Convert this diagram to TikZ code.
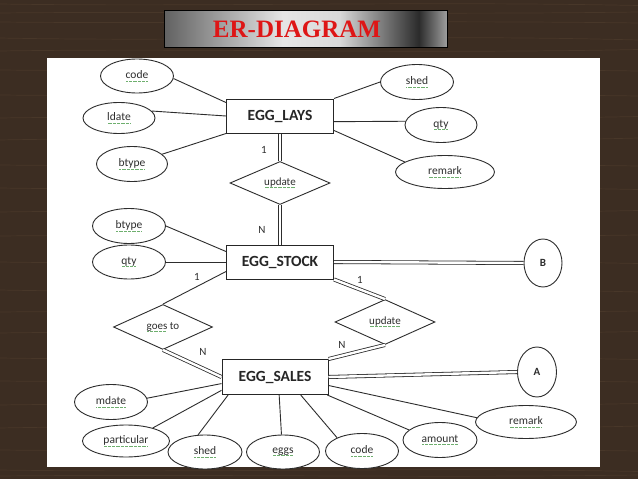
\documentclass[tikz,border=0pt]{standalone}
\usepackage{fontspec}
\setmainfont{Carlito}
\newfontfamily\titlefont{Liberation Serif}
\usetikzlibrary{shapes.geometric}
\definecolor{wood}{RGB}{60,45,34}
\definecolor{woodlight}{RGB}{88,68,50}
\definecolor{titlered}{RGB}{222,22,22}
\definecolor{sqgreen}{RGB}{110,175,110}
\definecolor{ink}{RGB}{45,45,45}
\pgfdeclarehorizontalshading{titlebar}{100bp}{rgb(0bp)=(0.38,0.38,0.38); rgb(25bp)=(0.38,0.38,0.38); rgb(46bp)=(0.90,0.90,0.90); rgb(56bp)=(0.85,0.85,0.85); rgb(70bp)=(0.17,0.17,0.17); rgb(75bp)=(0.62,0.62,0.62); rgb(100bp)=(0.62,0.62,0.62)}
\newsavebox\sqbox
\newcommand\sqg[1]{\sbox\sqbox{#1}\rlap{\usebox\sqbox}\textcolor{sqgreen}{\leaders\hbox to 1.3pt{\hss\rule[-2.4pt]{0.6pt}{0.6pt}\hss}\hskip\wd\sqbox}}
\tikzset{
  attr/.style={ellipse, draw=ink, line width=0.9pt, fill=white, inner sep=0pt, text=ink, font=\fontsize{11.5}{13}\selectfont},
  ent/.style={rectangle, draw=black!85, line width=1pt, fill=white, minimum width=107pt, minimum height=34pt, inner sep=0pt, font=\bfseries\fontsize{15.5}{17}\selectfont, text=black!85},
  rel/.style={diamond, draw=ink, line width=0.9pt, fill=white, aspect=2.3, inner sep=0pt, minimum width=100pt, minimum height=44pt, text=ink, font=\fontsize{11}{13}\selectfont},
  conn/.style={draw=ink, line width=0.9pt},
  dbl/.style={draw=ink, line width=0.8pt, double=white, double distance=2.4pt},
  card/.style={font=\fontsize{11}{13}\selectfont, text=ink, inner sep=0pt},
}
\begin{document}
\begin{tikzpicture}[x=1pt,y=-1pt]
\useasboundingbox (0,0) rectangle (638,479);
% wood background
\fill[wood] (0,0) rectangle (638,479);
\foreach \yy/\bb in {4/3,13/-2,22/2,38/4,51/-3,70/2,95/2,118/-3,140/-4,165/2,188/3,212/-3,236/-2,262/3,290/4,312/-2,333/-3,358/3,381/2,405/-3,428/-4,450/2,470/3,476/-2}{
  \draw[woodlight, opacity=0.45, line width=0.7pt] (0,\yy) .. controls (200,\yy+\bb) and (420,\yy-\bb) .. (638,\yy+0.5*\bb);
}
% title bar
\shade[shading=titlebar, draw=black, line width=0.8pt] (164,10) rectangle (447,47);
\node[font=\titlefont\bfseries\fontsize{25}{27}\selectfont, text=titlered, inner sep=0pt] (title) at (297,29.5) {ER-DIAGRAM};
% white panel
\fill[white] (47,58) rectangle (600,467);

% entities
\node[ent] (lays) at (280,116) {EGG\_LAYS};
\node[ent] (stock) at (280,262) {EGG\_STOCK};
\node[ent, minimum width=106pt, minimum height=35pt] (sales) at (275,377) {EGG\_SALES};

% relationships
\node[rel, minimum height=43pt] (upd1) at (280,183) {\sqg{update}};
\node[rel, minimum width=99pt, minimum height=45pt] (goes) at (163,327) {\sqg{goes} to};
\node[rel, minimum height=45pt] (upd2) at (385,322) {\sqg{update}};

% attributes
\node[attr, minimum width=73pt, minimum height=34pt] (code1) at (137,76) {\sqg{code}};
\node[attr, minimum width=72pt, minimum height=31pt] (ldate) at (119,118) {\sqg{ldate}};
\node[attr, minimum width=71pt, minimum height=35pt] (btype1) at (132,164) {\sqg{btype}};
\node[attr, minimum width=73pt, minimum height=35pt] (shed1) at (417,82) {\sqg{shed}};
\node[attr, minimum width=72pt, minimum height=35pt] (qty1) at (441,125) {\sqg{qty}};
\node[attr, minimum width=99pt, minimum height=33pt] (remark1) at (445,172) {\sqg{remark}};
\node[attr, minimum width=73pt, minimum height=35pt] (btype2) at (129,226) {\sqg{btype}};
\node[attr, minimum width=73pt, minimum height=34pt] (qty2) at (129,262) {\sqg{qty}};
\node[attr, minimum width=73pt, minimum height=35pt] (mdate) at (111,402) {\sqg{mdate}};
\node[attr, minimum width=87pt, minimum height=32pt] (part) at (126,441) {\sqg{particular}};
\node[attr, minimum width=74pt, minimum height=34pt] (shed2) at (205,452) {\sqg{shed}};
\node[attr, minimum width=73pt, minimum height=34pt] (eggs) at (283,452) {\sqg{eggs}};
\node[attr, minimum width=73pt, minimum height=35pt] (code2) at (362,451) {\sqg{code}};
\node[attr, minimum width=74pt, minimum height=35pt] (amount) at (440,440) {\sqg{amount}};
\node[attr, minimum width=101pt, minimum height=33pt] (remark2) at (526,422) {\sqg{remark}};
\node[attr, minimum width=38pt, minimum height=48pt, font=\bfseries\fontsize{11}{13}\selectfont] (B) at (543,263) {B};
\node[attr, minimum width=39pt, minimum height=50pt, font=\bfseries\fontsize{11}{13}\selectfont] (A) at (537,372) {A};

% EGG_LAYS attributes
\draw[conn] (lays.166) -- (code1.-4);
\draw[conn] (lays.west) -- (ldate.12);
\draw[conn] (lays.south west) -- (btype1.18);
\draw[conn] (lays.north east) -- (shed1.west);
\draw[conn] (lays.-6) -- (qty1.174);
\draw[conn] (lays.-15) -- (remark1.166);
% EGG_STOCK attributes
\draw[conn] (stock.169) -- (btype2.east);
\draw[conn] (stock.west) -- (qty2.east);
\draw[conn] (stock.190) -- (goes.north);
\draw[dbl] (stock.east) -- (B.west);
\draw[dbl] (stock.south east) -- (upd2.north);
% EGG_LAYS - update - EGG_STOCK
\draw[dbl] (lays.south) -- (upd1.north);
\draw[dbl] (upd1.south) -- (stock.north);
% to EGG_SALES
\draw[dbl] (goes.south) -- (sales.west);
\draw[dbl] (upd2.south) -- (sales.north east);
\draw[dbl] (sales.east) -- (A.west);
\draw[conn] (sales.187) -- (mdate.6);
\draw[conn] (sales.194) -- (part.26);
\draw[conn] (sales.201) -- (shed2.112);
\draw[conn] (sales.283) -- (eggs.95);
\draw[conn] (sales.-35) -- (code2.152);
\draw[conn] (sales.-19) -- (amount.162);
\draw[conn] (sales.-9) -- (remark2.175);

% cardinalities
\node[card] (c1) at (264,150) {1};
\node[card] (c2) at (262,230) {N};
\node[card] (c3) at (197,277) {1};
\node[card] (c4) at (360,280) {1};
\node[card] (c5) at (203,352) {N};
\node[card] (c6) at (342,345) {N};
\end{tikzpicture}
\end{document}
